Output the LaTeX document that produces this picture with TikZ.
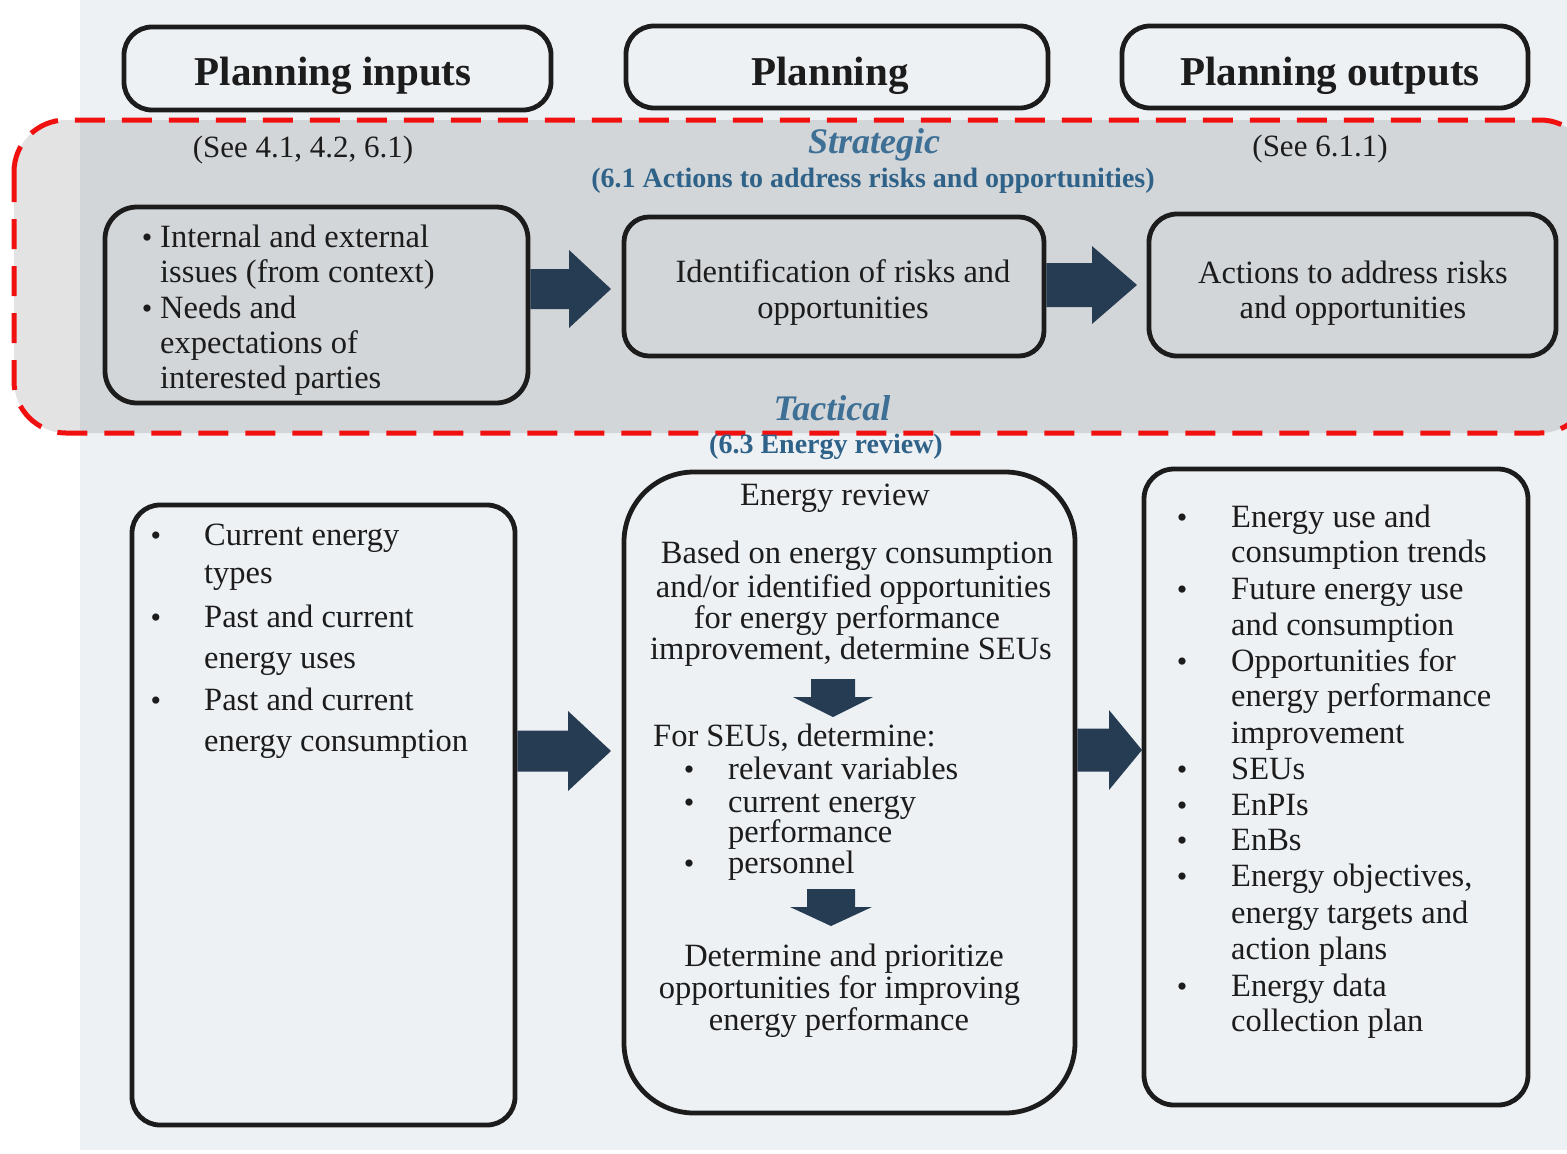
\documentclass[tikz,border=0pt]{standalone}
\usepackage{fontspec}
\setmainfont{Liberation Serif}
\usetikzlibrary{calc}
\definecolor{pagebg}{HTML}{EEF1F4}
\definecolor{ink}{HTML}{1C1C1C}
\definecolor{steel}{HTML}{3E6F95}
\definecolor{steeldark}{HTML}{2F6288}
\definecolor{arrowfill}{HTML}{263C53}
\definecolor{dashred}{HTML}{F01010}

% horizontal block arrow: start, tip, shaft half-height, head half-height, head length
\newcommand\blockarrow[5]{%
  \fill[arrowfill] let \p1=(#1), \p2=(#2) in
    (\x1,\y2+#3) -- (\x2-#5,\y2+#3) -- (\x2-#5,\y2+#4) -- (\x2,\y2)
    -- (\x2-#5,\y2-#4) -- (\x2-#5,\y2-#3) -- (\x1,\y2-#3) -- cycle;}
% downward block arrow: top, tip, shaft half-width, head half-width, head length
\newcommand\downblock[5]{%
  \fill[arrowfill] let \p1=(#1), \p2=(#2) in
    (\x2-#3,\y1) -- (\x2+#3,\y1) -- (\x2+#3,\y2+#5) -- (\x2+#4,\y2+#5) -- (\x2,\y2)
    -- (\x2-#4,\y2+#5) -- (\x2-#3,\y2+#5) -- cycle;}

\begin{document}
\begin{tikzpicture}[x=1pt,y=-1pt,
  box/.style={draw=ink, line width=4.8pt, rounded corners=#1, inner sep=0pt},
  box/.default=28pt,
  head/.style={font=\fontsize{41}{44}\selectfont\bfseries, text=ink, inner sep=0pt},
  txt/.style={font=\fontsize{32.5}{36}\selectfont, text=ink, inner sep=0pt},
  ref/.style={font=\fontsize{31}{34}\selectfont, text=ink, inner sep=0pt},
  level/.style={font=\fontsize{36}{40}\selectfont\bfseries\itshape, text=steel, inner sep=0pt},
  clause/.style={font=\fontsize{28}{32}\selectfont\bfseries, text=steeldark, inner sep=0pt},
  bul/.style={font=\fontsize{30}{34}\selectfont, text=ink, inner sep=0pt},
  reddash/.style={draw=dashred, line width=5pt, dash pattern=on 30pt off 17pt}
]
\useasboundingbox (0,0) rectangle (1567,1154);
\fill[white] (0,0) rectangle (1567,1154);
\fill[pagebg] (80,0) rectangle (1567,1150);

% strategic band
\path[reddash, fill=black, fill opacity=0.11, rounded corners=52pt] (14,120) rectangle (1592,433);

% column headers
\node[box, minimum width=427pt, minimum height=83pt] (hin) at (337.5,68.5) {};
\node[box, minimum width=422pt, minimum height=82pt] (hpl) at (837,67) {};
\node[box, minimum width=406pt, minimum height=82pt] (hout) at (1325,67) {};
\node[head, anchor=base] (hint) at (333,85) {Planning inputs};
\node[head, anchor=base] (hplt) at (830,85) {Planning};
\node[head, anchor=base] (houtt) at (1330,85) {Planning outputs};

% strategic labels
\node[ref, anchor=base] (see1) at (303,157) {(See 4.1, 4.2, 6.1)};
\node[level, anchor=base] (strat) at (874,153) {Strategic};
\node[clause, anchor=base] (c61) at (873,187) {(6.1 Actions to address risks and opportunities)};
\node[ref, anchor=base] (see2) at (1320,156) {(See 6.1.1)};

% strategic boxes
\node[box=32pt, minimum width=423pt, minimum height=196pt] (issues) at (316.5,305) {};
\node[box=25pt, minimum width=420pt, minimum height=139pt] (ident) at (834,286.5) {};
\node[box=28pt, minimum width=407pt, minimum height=142pt] (acts) at (1352.5,285) {};

\foreach \yy/\b/\t in {247/1/Internal and external, 282/0/issues (from context),
    318/1/Needs and, 353/0/expectations of, 388/0/interested parties}{
  \node[txt, anchor=base west] (iss-\yy) at (160,\yy) {\t};
  \ifnum\b=1 \node[bul, anchor=base] (issb-\yy) at (147,\yy) {\textbullet}; \fi
}
\node[txt, anchor=base] (id1) at (843,282) {Identification of risks and};
\node[txt, anchor=base] (id2) at (843,318) {opportunities};
\node[txt, anchor=base] (ac1) at (1353,283) {Actions to address risks};
\node[txt, anchor=base] (ac2) at (1353,318) {and opportunities};

\coordinate (tip1) at (611,289);
\coordinate (tip2) at (1137,285);
\blockarrow{issues.east}{tip1}{20}{39}{42}
\blockarrow{ident.east}{tip2}{22}{39}{45}

% tactical labels
\node[level, anchor=base] (tact) at (832,420) {Tactical};
\node[clause, anchor=base] (c63) at (826,453) {(6.3 Energy review)};

% tactical boxes
\node[box=28pt, minimum width=383pt, minimum height=620pt] (inputs) at (323.5,815) {};
\node[box=70pt, minimum width=451pt, minimum height=641pt] (review) at (849.5,792.5) {};
\node[box=30pt, minimum width=384pt, minimum height=636pt] (outputs) at (1336,787) {};

\foreach \yy/\b/\t in {545/1/Current energy, 583/0/types, 627/1/Past and current,
    668/0/energy uses, 710/1/Past and current, 751/0/energy consumption}{
  \node[txt, anchor=base west] (in-\yy) at (204,\yy) {\t};
  \ifnum\b=1 \node[bul, anchor=base] (inb-\yy) at (156,\yy) {\textbullet}; \fi
}

\node[txt, anchor=base] (er) at (835,505) {Energy review};
\node[txt, anchor=base] (er1) at (857,563) {Based on energy consumption};
\node[txt, anchor=base] (er2) at (853.5,597) {and/or identified opportunities};
\node[txt, anchor=base] (er3) at (847,628) {for energy performance};
\node[txt, anchor=base] (er4) at (851,659) {improvement, determine SEUs};
\node[txt, anchor=base west] (seu) at (653,746) {For SEUs, determine:};
\foreach \yy/\b/\t in {779/1/relevant variables, 812/1/current energy,
    842/0/performance, 873/1/personnel}{
  \node[txt, anchor=base west] (seu-\yy) at (728,\yy) {\t};
  \ifnum\b=1 \node[bul, anchor=base, text height=12pt, text depth=0pt] (seub-\yy) at (689,\yy) {\textbullet}; \fi
}
\node[txt, anchor=base] (dp1) at (844,966) {Determine and prioritize};
\node[txt, anchor=base] (dp2) at (839.5,998) {opportunities for improving};
\node[txt, anchor=base] (dp3) at (839,1030) {energy performance};

\coordinate (v1top) at (833,679);
\coordinate (v1tip) at (833,717);
\coordinate (v2top) at (831,889);
\coordinate (v2tip) at (831,926);
\downblock{v1top}{v1tip}{22}{40}{20}
\downblock{v2top}{v2tip}{24}{41}{19}

\foreach \yy/\b/\t in {527/1/Energy use and, 562/0/consumption trends,
    599/1/Future energy use, 635/0/and consumption, 671/1/Opportunities for,
    706/0/energy performance, 743/0/improvement, 779/1/SEUs, 815/1/EnPIs,
    850/1/EnBs, 886/1/{Energy objectives,}, 923/0/energy targets and,
    959/0/action plans, 996/1/Energy data, 1031/0/collection plan}{
  \node[txt, anchor=base west] (out-\yy) at (1231,\yy) {\t};
  \ifnum\b=1 \node[bul, anchor=base] (outb-\yy) at (1182,\yy) {\textbullet}; \fi
}

\coordinate (tip3) at (611,751);
\coordinate (tip4) at (1142,750);
\blockarrow{inputs.east}{tip3}{20.5}{40}{43}
\blockarrow{review.east}{tip4}{21.5}{40}{33}
\end{tikzpicture}
\end{document}
